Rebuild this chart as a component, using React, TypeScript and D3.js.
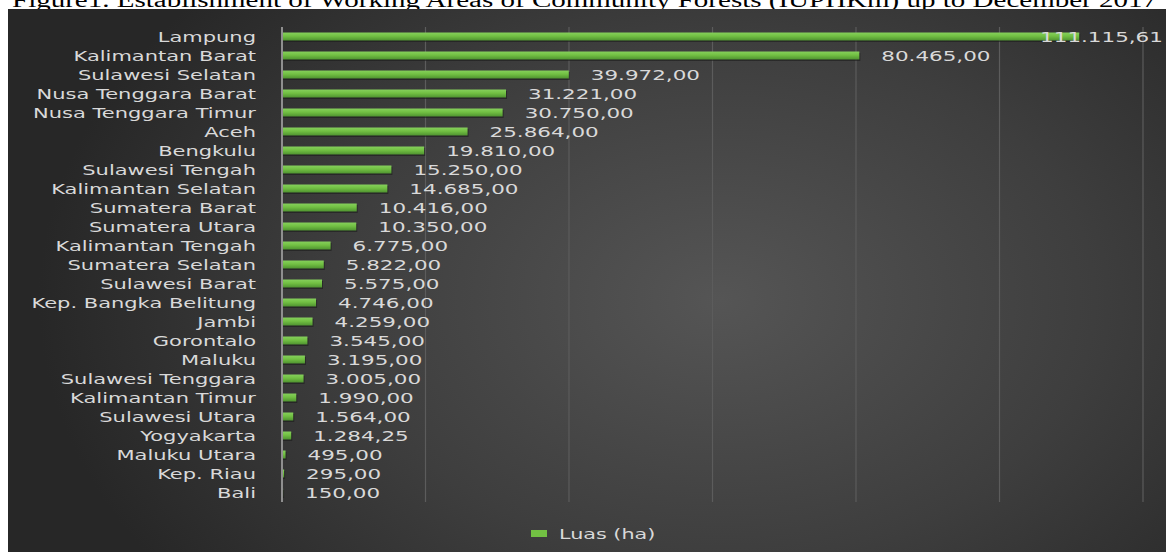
import React, { useEffect, useRef } from "react";
import * as d3 from "d3";

const TITLE = "Figure1. Establishment of Working Areas of Community Forests (IUPHKm) up to December 2017";
const categories = [
  "Lampung", "Kalimantan Barat", "Sulawesi Selatan", "Nusa Tenggara Barat", "Nusa Tenggara Timur",
  "Aceh", "Bengkulu", "Sulawesi Tengah", "Kalimantan Selatan", "Sumatera Barat", "Sumatera Utara",
  "Kalimantan Tengah", "Sumatera Selatan", "Sulawesi Barat", "Kep. Bangka Belitung", "Jambi",
  "Gorontalo", "Maluku", "Sulawesi Tenggara", "Kalimantan Timur", "Sulawesi Utara", "Yogyakarta",
  "Maluku Utara", "Kep. Riau", "Bali",
];
const values = [
  111115.61, 80465, 39972, 31221, 30750, 25864, 19810, 15250, 14685, 10416, 10350, 6775, 5822,
  5575, 4746, 4259, 3545, 3195, 3005, 1990, 1564, 1284.25, 495, 295, 150,
];
const xTicks = [0, 20000, 40000, 60000, 80000, 100000, 120000];
const legendLabel = "Luas (ha)";

const W = 1166;
const H = 552;
const SX = 1.48;
const SXC = 1.5;

export default function App() {
  const ref = useRef<SVGSVGElement | null>(null);

  useEffect(() => {
    document.body.style.margin = "0";
    const svg = d3.select(ref.current);
    svg.selectAll("*").remove();

    const defs = svg.append("defs");
    const rg = defs
      .append("radialGradient")
      .attr("id", "bg")
      .attr("gradientUnits", "userSpaceOnUse")
      .attr("cx", 720)
      .attr("cy", 300)
      .attr("r", 470)
      .attr("gradientTransform", "translate(720,300) scale(1.45,1) translate(-720,-300)");
    rg.append("stop").attr("offset", 0).attr("stop-color", "#555555");
    rg.append("stop").attr("offset", 0.55).attr("stop-color", "#3e3e3e");
    rg.append("stop").attr("offset", 1).attr("stop-color", "#272727");

    const bg = defs.append("linearGradient").attr("id", "bar").attr("x1", 0).attr("x2", 0).attr("y1", 0).attr("y2", 1);
    bg.append("stop").attr("offset", 0).attr("stop-color", "#86d05c");
    bg.append("stop").attr("offset", 0.45).attr("stop-color", "#72c043");
    bg.append("stop").attr("offset", 1).attr("stop-color", "#4f9330");

    // title
    svg
      .append("text")
      .attr("x", 12)
      .attr("y", 7)
      .attr("font-family", "Liberation Serif")
      .attr("font-size", 20)
      .attr("textLength", 1145)
      .attr("lengthAdjust", "spacingAndGlyphs")
      .attr("fill", "#000")
      .text(TITLE);

    // panel
    svg.append("rect").attr("x", 8).attr("y", 9).attr("width", W - 8).attr("height", H - 9).attr("fill", "url(#bg)");

    const x = d3.scaleLinear().domain([0, 120000]).range([282, 1143]);
    const y = d3.scaleBand<string>().domain(categories).range([27, 502]).paddingInner(0.58).paddingOuter(0.29);

    const g = svg.append("g");
    g.selectAll("line.grid")
      .data(xTicks.slice(1))
      .join("line")
      .attr("x1", (d) => x(d))
      .attr("x2", (d) => x(d))
      .attr("y1", 27)
      .attr("y2", 502)
      .attr("stroke", "#5c5c5c")
      .attr("stroke-width", 1.2);

    // bars
    const data = categories.map((c, i) => ({ c, v: values[i] }));
    g.selectAll("rect.shadow")
      .data(data)
      .join("rect")
      .attr("x", x(0) + 1)
      .attr("y", (d) => (y(d.c) as number) + 1.5)
      .attr("width", (d) => Math.max(0.6, x(d.v) - x(0)))
      .attr("height", y.bandwidth())
      .attr("fill", "#1c1c1c")
      .attr("opacity", 0.6);
    g.selectAll("rect.bar")
      .data(data)
      .join("rect")
      .attr("x", x(0))
      .attr("y", (d) => y(d.c) as number)
      .attr("width", (d) => Math.max(0.6, x(d.v) - x(0)))
      .attr("height", y.bandwidth())
      .attr("fill", "url(#bar)");

    // axis line
    g.append("line")
      .attr("x1", x(0))
      .attr("x2", x(0))
      .attr("y1", 27)
      .attr("y2", 502)
      .attr("stroke", "#8f8f8f")
      .attr("stroke-width", 2);

    // category labels
    g.selectAll("text.cat")
      .data(data)
      .join("text")
      .attr("transform", (d) => `translate(256,${(y(d.c) as number) + y.bandwidth() / 2}) scale(${SXC},1)`)
      .attr("text-anchor", "end")
      .attr("dy", "0.36em")
      .attr("font-family", "DejaVu Sans")
      .attr("font-size", 14)
      .attr("fill", "#d9d9d9")
      .text((d) => d.c);

    // value labels
    const loc = d3.formatLocale({ decimal: ",", thousands: ".", grouping: [3], currency: ["", ""] });
    const fmt = loc.format(",.2f");
    const vl = g
      .selectAll("text.val")
      .data(data)
      .join("text")
      .attr("dy", "0.36em")
      .attr("font-family", "DejaVu Sans")
      .attr("font-size", 14.5)
      .attr("fill", "#d9d9d9")
      .text((d) => fmt(d.v));
    vl.each(function (d) {
      const el = this as SVGTextElement;
      const w = el.getComputedTextLength() * SX;
      let px = x(d.v) + 22;
      if (px + w > W - 3) px = W - 3 - w;
      d3.select(el).attr("transform", `translate(${px},${(y(d.c) as number) + y.bandwidth() / 2}) scale(${SX},1)`);
    });

    // legend
    svg.append("rect").attr("x", 531).attr("y", 530).attr("width", 16).attr("height", 7).attr("fill", "#72c043");
    svg
      .append("text")
      .attr("transform", `translate(559,534) scale(${SX},1)`)
      .attr("dy", "0.36em")
      .attr("font-family", "DejaVu Sans")
      .attr("font-size", 14)
      .attr("fill", "#d9d9d9")
      .text(legendLabel);
  }, []);

  return <svg ref={ref} width={W} height={H} style={{ display: "block" }} />;
}
